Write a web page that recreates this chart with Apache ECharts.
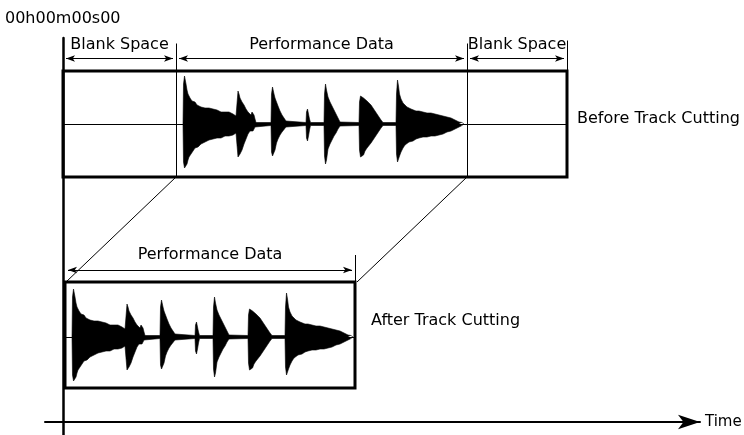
<!DOCTYPE html>
<html><head><meta charset="utf-8">
<script src="https://cdn.jsdelivr.net/npm/echarts@6/dist/echarts.min.js"></script>
<style>html,body{margin:0;padding:0;background:#fff}#c{width:744px;height:435px}</style>
</head><body><div id="c"></div>
<script>
// Waveform envelope (time offset from waveform start, upper and lower amplitude)
const waveT = [0,0.5,1.5,3,4,5,6,7,8,9,10,11,12,13,14,15,16,18,20,22,24,26,28,30,32,34,36,38,40,42,44,46,48,50,52,53,
  54.5,55,56,57,58,59,60,61,62,63,64,65,66,67,68,69,70,71,72,73,
  88,88.5,89.5,91,92,93.5,95,97,99,101,103,104.5,
  123,123.5,124.5,125.5,126.5,127.5,
  141,141.5,142.5,143.5,145,147,149,151,153,155,157,158,
  176,176.5,177.5,179,180.5,182,184,186,188,190,192,194,196,198,200,
  213,213.5,214.5,215.5,216.5,218,220,222,224,226,228,230,233,236,240,244,248,252,256,260,264,268,272,276,279,281];
const waveUp = [0,40,48,40,34,30,28,26,25,23,24,21,22,20,19,21,18,17,18,16,15,16,14,15,13,14,13,12,13,12,11,12,11,10,9,8,
  10,33,30,26,24,22,20,19,17,15,13,12,10,10,9,12,12,9,5,1.5,
  1.5,30,37,30,26,22,18,13,9,6,3,1.5,
  1.5,12,15,10,5,1.5,
  1.5,30,40,34,27,22,18,14,10,6,2,1.5,
  1.5,22,28,29,26,25,23,21,19,16,13,10,7,4,1.5,
  1.5,30,44,38,30,25,21,19,17,16,15,14,13,13,12,11,11,10,9,8,7,6,4,2,1.5,0];
const waveDown = [0,38,44,46,40,36,33,35,30,31,27,26,24,25,22,23,21,20,19,18,17,16,16,15,15,14,13,14,13,12,13,12,11,11,10,9,
  10,33,35,30,28,26,23,20,18,15,13,10,9,7,6,8,7,5,3,1.5,
  1.5,28,32,30,26,19,15,11,8,6,3,1.5,
  1.5,14,17,12,6,1.5,
  1.5,32,40,36,25,20,16,12,9,5,2,1.5,
  1.5,26,33,34,31,27,24,22,19,16,13,10,7,4,1.5,
  1.5,30,38,36,32,28,24,21,20,18,17,17,15,14,13,13,12,12,11,10,8,7,5,3,1.5,0];

const trackNames = ['Before Track Cutting', 'After Track Cutting'];
const trackLeft = [0, 2];
const trackRight = [504, 292];
const trackTop = [351, 140];
const trackBottom = [245, 34];
const trackMid = [298, 85];
const waveStart = [120, 9];
const segNames = ['Blank Space', 'Performance Data', 'Blank Space'];
const segBounds = [0, 113, 404, 504];
const segArrowY = 363.5;
const cutLabel = 'Performance Data';
const cutArrowY = 152;
const startLabel = '00h00m00s00';
const axisName = 'Time';

const INK = '#000';
const FONT = 'DejaVu Sans';
const FS = 16;

const series = [];
for (let k = 0; k < 2; k++) {
  series.push({
    type: 'line', silent: true, animation: false, symbol: 'none', z: 3,
    data: waveT.map((t, i) => [waveStart[k] + t, trackMid[k] + waveUp[i]]),
    lineStyle: { width: 0.6, color: INK },
    areaStyle: { origin: trackMid[k], color: INK, opacity: 1 }
  });
  series.push({
    type: 'line', silent: true, animation: false, symbol: 'none', z: 3,
    data: waveT.map((t, i) => [waveStart[k] + t, trackMid[k] - waveDown[i]]),
    lineStyle: { width: 0.6, color: INK },
    areaStyle: { origin: trackMid[k], color: INK, opacity: 1 }
  });
}

function seg(a, b) { return [{ coord: a }, { coord: b }]; }

const thinLines = [];
for (let k = 0; k < 2; k++) thinLines.push(seg([trackLeft[k], trackMid[k]], [trackRight[k], trackMid[k]]));
thinLines.push(seg([segBounds[1], trackBottom[0]], [segBounds[1], segArrowY + 15]));
thinLines.push(seg([segBounds[2], trackBottom[0]], [segBounds[2], segArrowY + 15]));
thinLines.push(seg([segBounds[3], trackBottom[0]], [segBounds[3], segArrowY + 18]));
thinLines.push(seg([trackRight[1], trackTop[1]], [trackRight[1], cutArrowY + 15]));
thinLines.push(seg([segBounds[1], trackBottom[0]], [trackLeft[1] + 1, trackTop[1]]));
thinLines.push(seg([segBounds[2], trackBottom[0]], [trackRight[1] + 2, trackTop[1]]));

const arrowLines = [];
for (let i = 0; i < 3; i++) arrowLines.push(seg([segBounds[i] + 3, segArrowY], [segBounds[i + 1] - 3, segArrowY]));
arrowLines.push(seg([trackLeft[1] + 3, cutArrowY], [trackRight[1] - 3, cutArrowY]));

const boxes = [];
for (let k = 0; k < 2; k++) boxes.push([{ coord: [trackLeft[k], trackTop[k]] }, { coord: [trackRight[k], trackBottom[k]] }]);

series.push({
  type: 'line', data: [], silent: true, animation: false,
  markLine: { silent: true, animation: false, symbol: ['none', 'none'], label: { show: false },
    lineStyle: { color: INK, width: 1, type: 'solid' }, data: thinLines },
  markArea: { silent: true, animation: false, label: { show: false },
    itemStyle: { color: 'rgba(0,0,0,0)', borderColor: INK, borderWidth: 3 }, data: boxes }
});
series.push({
  type: 'line', data: [], silent: true, animation: false,
  markLine: { silent: true, animation: false, symbol: ['arrow', 'arrow'], symbolSize: [5, 9], label: { show: false },
    lineStyle: { color: INK, width: 1, type: 'solid' }, data: arrowLines }
});

const labels = [];
for (let i = 0; i < 3; i++) labels.push({ name: segNames[i], value: [(segBounds[i] + segBounds[i + 1]) / 2, segArrowY + 14], label: { position: 'inside' } });
labels.push({ name: cutLabel, value: [(trackLeft[1] + trackRight[1]) / 2, cutArrowY + 15], label: { position: 'inside' } });
labels.push({ name: trackNames[0], value: [trackRight[0] + 10, trackMid[0] + 5], label: { position: 'right', distance: 0 } });
labels.push({ name: trackNames[1], value: [trackRight[1] + 16, trackMid[1] + 16], label: { position: 'right', distance: 0 } });

series.push({
  type: 'scatter', symbolSize: 0, silent: true, animation: false, z: 5,
  itemStyle: { opacity: 1 },
  data: labels,
  label: { show: true, formatter: p => p.name, color: INK, fontSize: FS, fontFamily: FONT }
});

const option = {
  backgroundColor: '#fff',
  animation: false,
  title: { text: startLabel, left: 5, top: 11, padding: 0,
    textStyle: { fontSize: FS, fontWeight: 'normal', color: INK, fontFamily: FONT } },
  grid: { left: 45, right: 44, top: 38, bottom: 0, containLabel: false, outerBoundsMode: 'none' },
  xAxis: {
    type: 'value', min: -18, max: 637,
    name: axisName, nameLocation: 'end', nameGap: 5,
    nameTextStyle: { fontSize: 15, color: INK, fontFamily: FONT },
    axisLine: { show: true, onZero: true, symbol: ['none', 'arrow'], symbolSize: [11, 22],
      lineStyle: { color: INK, width: 2 } },
    axisTick: { show: false }, axisLabel: { show: false }, splitLine: { show: false }
  },
  yAxis: {
    type: 'value', min: -13, max: 384,
    axisLine: { show: true, onZero: true, lineStyle: { color: INK, width: 2.5 } },
    axisTick: { show: false }, axisLabel: { show: false }, splitLine: { show: false }
  },
  series: series
};

const chart = echarts.init(document.getElementById('c'), null, { renderer: 'canvas' });
chart.setOption(option);
</script>
</body></html>
